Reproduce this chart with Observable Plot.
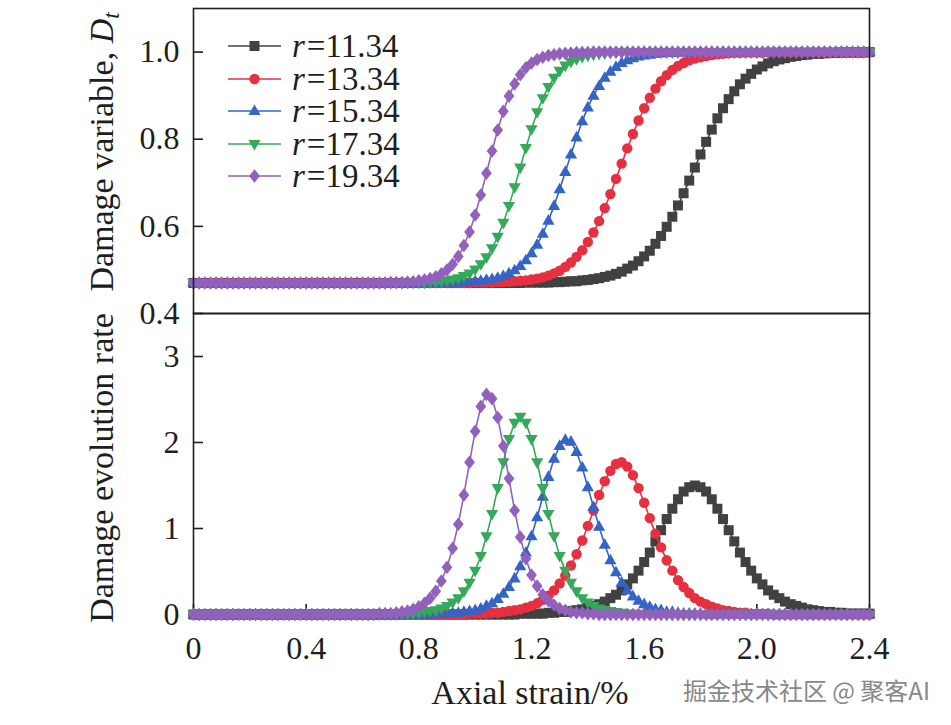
<!DOCTYPE html>
<html>
<head>
<meta charset="utf-8">
<script src="https://cdn.jsdelivr.net/npm/d3@7"></script>
<script src="https://cdn.jsdelivr.net/npm/@observablehq/plot@0.6"></script>
<style>
  body { margin: 0; background: #fff; }
  #chart { position: relative; width: 951px; height: 725px; overflow: hidden; }
  #chart svg { position: absolute; left: 0; }
  #chart svg text:not(.cjk) { font-family: "Liberation Serif", "Times New Roman", serif; }
</style>
</head>
<body>
<div id="chart"></div>
<script>
// Axial strain (%) sampled every 0.02
const strain = [
  0,0.02,0.04,0.06,0.08,0.1,0.12,0.14,0.16,0.18,
  0.2,0.22,0.24,0.26,0.28,0.3,0.32,0.34,0.36,0.38,
  0.4,0.42,0.44,0.46,0.48,0.5,0.52,0.54,0.56,0.58,
  0.6,0.62,0.64,0.66,0.68,0.7,0.72,0.74,0.76,0.78,
  0.8,0.82,0.84,0.86,0.88,0.9,0.92,0.94,0.96,0.98,
  1.0,1.02,1.04,1.06,1.08,1.1,1.12,1.14,1.16,1.18,
  1.2,1.22,1.24,1.26,1.28,1.3,1.32,1.34,1.36,1.38,
  1.4,1.42,1.44,1.46,1.48,1.5,1.52,1.54,1.56,1.58,
  1.6,1.62,1.64,1.66,1.68,1.7,1.72,1.74,1.76,1.78,
  1.8,1.82,1.84,1.86,1.88,1.9,1.92,1.94,1.96,1.98,
  2.0,2.02,2.04,2.06,2.08,2.1,2.12,2.14,2.16,2.18,
  2.2,2.22,2.24,2.26,2.28,2.3,2.32,2.34,2.36,2.38,
  2.4
];

// Damage variable D_t for each r
const damage1134 = [
  0.47,0.47,0.47,0.47,0.47,0.47,0.47,0.47,0.47,0.47,
  0.47,0.47,0.47,0.47,0.47,0.47,0.47,0.47,0.47,0.47,
  0.47,0.47,0.47,0.47,0.47,0.47,0.47,0.47,0.47,0.47,
  0.47,0.47,0.47,0.47,0.47,0.47,0.47,0.47,0.47,0.47,
  0.47,0.47,0.47,0.47,0.47,0.47,0.47,0.47,0.47,0.47,
  0.47,0.47,0.47,0.47,0.47,0.47,0.47,0.47,0.47,0.471,
  0.471,0.471,0.471,0.471,0.472,0.472,0.473,0.474,0.474,0.476,
  0.477,0.479,0.481,0.484,0.487,0.491,0.496,0.503,0.51,0.52,
  0.531,0.544,0.56,0.578,0.599,0.622,0.648,0.676,0.705,0.735,
  0.765,0.794,0.822,0.848,0.871,0.892,0.91,0.926,0.939,0.95,
  0.96,0.967,0.974,0.979,0.983,0.986,0.989,0.991,0.993,0.994,
  0.996,0.996,0.997,0.998,0.998,0.999,0.999,0.999,0.999,0.999,
  1
];
const damage1334 = [
  0.47,0.47,0.47,0.47,0.47,0.47,0.47,0.47,0.47,0.47,
  0.47,0.47,0.47,0.47,0.47,0.47,0.47,0.47,0.47,0.47,
  0.47,0.47,0.47,0.47,0.47,0.47,0.47,0.47,0.47,0.47,
  0.47,0.47,0.47,0.47,0.47,0.47,0.47,0.47,0.47,0.47,
  0.47,0.47,0.47,0.47,0.47,0.47,0.47,0.47,0.47,0.47,
  0.471,0.471,0.471,0.471,0.472,0.472,0.473,0.474,0.475,0.476,
  0.478,0.48,0.483,0.487,0.492,0.498,0.507,0.517,0.53,0.545,
  0.564,0.586,0.612,0.642,0.674,0.709,0.744,0.779,0.812,0.843,
  0.871,0.895,0.916,0.933,0.947,0.959,0.968,0.975,0.981,0.985,
  0.988,0.991,0.993,0.995,0.996,0.997,0.998,0.998,0.999,0.999,
  0.999,0.999,1,1,1,1,1,1,1,1,
  1,1,1,1,1,1,1,1,1,1,
  1
];
const damage1534 = [
  0.47,0.47,0.47,0.47,0.47,0.47,0.47,0.47,0.47,0.47,
  0.47,0.47,0.47,0.47,0.47,0.47,0.47,0.47,0.47,0.47,
  0.47,0.47,0.47,0.47,0.47,0.47,0.47,0.47,0.47,0.47,
  0.47,0.47,0.47,0.47,0.47,0.47,0.47,0.47,0.47,0.47,
  0.47,0.47,0.47,0.47,0.471,0.471,0.471,0.471,0.472,0.473,
  0.474,0.475,0.477,0.479,0.482,0.486,0.492,0.499,0.509,0.522,
  0.538,0.558,0.583,0.613,0.647,0.685,0.725,0.765,0.804,0.841,
  0.873,0.9,0.922,0.941,0.955,0.966,0.975,0.981,0.986,0.99,
  0.992,0.994,0.996,0.997,0.998,0.998,0.999,0.999,0.999,1,
  1,1,1,1,1,1,1,1,1,1,
  1,1,1,1,1,1,1,1,1,1,
  1,1,1,1,1,1,1,1,1,1,
  1
];
const damage1734 = [
  0.47,0.47,0.47,0.47,0.47,0.47,0.47,0.47,0.47,0.47,
  0.47,0.47,0.47,0.47,0.47,0.47,0.47,0.47,0.47,0.47,
  0.47,0.47,0.47,0.47,0.47,0.47,0.47,0.47,0.47,0.47,
  0.47,0.47,0.47,0.47,0.47,0.47,0.47,0.47,0.471,0.471,
  0.471,0.471,0.472,0.473,0.474,0.476,0.478,0.481,0.486,0.492,
  0.501,0.513,0.529,0.55,0.576,0.608,0.647,0.69,0.735,0.78,
  0.823,0.862,0.894,0.92,0.941,0.957,0.969,0.978,0.984,0.989,
  0.992,0.994,0.996,0.997,0.998,0.999,0.999,0.999,0.999,1,
  1,1,1,1,1,1,1,1,1,1,
  1,1,1,1,1,1,1,1,1,1,
  1,1,1,1,1,1,1,1,1,1,
  1,1,1,1,1,1,1,1,1,1,
  1
];
const damage1934 = [
  0.47,0.47,0.47,0.47,0.47,0.47,0.47,0.47,0.47,0.47,
  0.47,0.47,0.47,0.47,0.47,0.47,0.47,0.47,0.47,0.47,
  0.47,0.47,0.47,0.47,0.47,0.47,0.47,0.47,0.47,0.47,
  0.47,0.47,0.47,0.47,0.47,0.471,0.471,0.471,0.472,0.473,
  0.475,0.477,0.48,0.484,0.491,0.5,0.513,0.531,0.556,0.587,
  0.626,0.672,0.722,0.773,0.821,0.864,0.899,0.927,0.948,0.964,
  0.975,0.983,0.988,0.992,0.994,0.996,0.997,0.998,0.999,0.999,
  0.999,1,1,1,1,1,1,1,1,1,
  1,1,1,1,1,1,1,1,1,1,
  1,1,1,1,1,1,1,1,1,1,
  1,1,1,1,1,1,1,1,1,1,
  1,1,1,1,1,1,1,1,1,1,
  1
];

// Damage evolution rate for each r
const rate1134 = [
  0,0,0,0,0,0,0,0,0,0,
  0,0,0,0,0,0,0,0,0,0,
  0,0,0,0,0,0,0,0,0,0,
  0,0,0,0,0,0,0,0,0,0,
  0,0,0,0,0,0,0,0,0,0,
  0,0,0,0,0,0,0,0,0.01,0.01,
  0.01,0.01,0.01,0.02,0.02,0.03,0.03,0.04,0.05,0.06,
  0.08,0.1,0.12,0.15,0.19,0.23,0.28,0.35,0.42,0.51,
  0.61,0.72,0.85,0.98,1.11,1.23,1.34,1.43,1.48,1.5,
  1.48,1.43,1.34,1.23,1.11,0.98,0.85,0.72,0.61,0.51,
  0.42,0.35,0.28,0.23,0.19,0.15,0.12,0.1,0.08,0.06,
  0.05,0.04,0.03,0.03,0.02,0.02,0.01,0.01,0.01,0.01,
  0.01
];
const rate1334 = [
  0,0,0,0,0,0,0,0,0,0,
  0,0,0,0,0,0,0,0,0,0,
  0,0,0,0,0,0,0,0,0,0,
  0,0,0,0,0,0,0,0,0,0,
  0,0,0,0,0,0,0,0,0,0.01,
  0.01,0.01,0.01,0.02,0.02,0.03,0.04,0.05,0.06,0.08,
  0.1,0.13,0.17,0.22,0.28,0.36,0.45,0.57,0.7,0.86,
  1.03,1.21,1.39,1.55,1.67,1.75,1.77,1.72,1.62,1.47,
  1.3,1.12,0.94,0.78,0.63,0.51,0.4,0.32,0.25,0.19,
  0.15,0.12,0.09,0.07,0.05,0.04,0.03,0.02,0.02,0.01,
  0.01,0.01,0.01,0,0,0,0,0,0,0,
  0,0,0,0,0,0,0,0,0,0,
  0
];
const rate1534 = [
  0,0,0,0,0,0,0,0,0,0,
  0,0,0,0,0,0,0,0,0,0,
  0,0,0,0,0,0,0,0,0,0,
  0,0,0,0,0,0,0,0,0,0,
  0,0,0,0.01,0.01,0.01,0.02,0.02,0.03,0.04,
  0.05,0.07,0.1,0.13,0.18,0.24,0.32,0.42,0.56,0.72,
  0.91,1.13,1.37,1.6,1.81,1.96,2.03,2.01,1.89,1.71,
  1.48,1.25,1.02,0.81,0.63,0.49,0.37,0.28,0.21,0.16,
  0.12,0.09,0.06,0.05,0.03,0.03,0.02,0.01,0.01,0.01,
  0.01,0,0,0,0,0,0,0,0,0,
  0,0,0,0,0,0,0,0,0,0,
  0,0,0,0,0,0,0,0,0,0,
  0
];
const rate1734 = [
  0,0,0,0,0,0,0,0,0,0,
  0,0,0,0,0,0,0,0,0,0,
  0,0,0,0,0,0,0,0,0,0,
  0,0,0,0,0,0,0,0.01,0.01,0.01,
  0.02,0.03,0.04,0.05,0.07,0.1,0.14,0.19,0.27,0.37,
  0.51,0.68,0.91,1.17,1.47,1.77,2.04,2.23,2.3,2.23,
  2.04,1.77,1.47,1.17,0.91,0.68,0.51,0.37,0.27,0.19,
  0.14,0.1,0.07,0.05,0.04,0.03,0.02,0.01,0.01,0.01,
  0,0,0,0,0,0,0,0,0,0,
  0,0,0,0,0,0,0,0,0,0,
  0,0,0,0,0,0,0,0,0,0,
  0,0,0,0,0,0,0,0,0,0,
  0
];
const rate1934 = [
  0,0,0,0,0,0,0,0,0,0,
  0,0,0,0,0,0,0,0,0,0,
  0,0,0,0,0,0,0,0,0,0,
  0,0,0,0.01,0.01,0.01,0.02,0.03,0.04,0.06,
  0.09,0.13,0.19,0.27,0.39,0.55,0.77,1.05,1.39,1.77,
  2.13,2.42,2.56,2.51,2.29,1.96,1.58,1.21,0.9,0.65,
  0.46,0.33,0.23,0.16,0.11,0.07,0.05,0.03,0.02,0.02,
  0.01,0.01,0,0,0,0,0,0,0,0,
  0,0,0,0,0,0,0,0,0,0,
  0,0,0,0,0,0,0,0,0,0,
  0,0,0,0,0,0,0,0,0,0,
  0,0,0,0,0,0,0,0,0,0,
  0
];

const rValues = ["11.34", "13.34", "15.34", "17.34", "19.34"];
const strainTicks = [0, 0.4, 0.8, 1.2, 1.6, 2.0, 2.4];
const damageTicks = [0.4, 0.6, 0.8, 1.0];
const rateTicks = [0, 1, 2, 3];

// Marker shapes
const squareSym = {draw(c) { c.moveTo(-5, -5); c.lineTo(5, -5); c.lineTo(5, 5); c.lineTo(-5, 5); c.closePath(); }};
const circleSym = {draw(c) { c.moveTo(5.2, 0); c.arc(0, 0, 5.2, 0, 2 * Math.PI); c.closePath(); }};
const triUpSym = {draw(c) { c.moveTo(0, -6.6); c.lineTo(6.1, 4); c.lineTo(-6.1, 4); c.closePath(); }};
const triDownSym = {draw(c) { c.moveTo(0, 6.6); c.lineTo(6.1, -4); c.lineTo(-6.1, -4); c.closePath(); }};
const diamondSym = {draw(c) { c.moveTo(0, -6.8); c.lineTo(5.4, 0); c.lineTo(0, 6.8); c.lineTo(-5.4, 0); c.closePath(); }};

const series = [
  {r: rValues[0], color: "#414141", symbol: squareSym, D: damage1134, rate: rate1134},
  {r: rValues[1], color: "#e62f3f", symbol: circleSym, D: damage1334, rate: rate1334},
  {r: rValues[2], color: "#3464c4", symbol: triUpSym, D: damage1534, rate: rate1534},
  {r: rValues[3], color: "#35a85a", symbol: triDownSym, D: damage1734, rate: rate1734},
  {r: rValues[4], color: "#9161bd", symbol: diamondSym, D: damage1934, rate: rate1934}
];

const FONT = "'Liberation Serif', 'Times New Roman', serif";
const INK = "#1e1e1e";
const W = 951, ML = 193, MR = 82;
const fmt1 = d => d === 0 ? "0" : d.toFixed(1);

function seriesMarks(key) {
  return series.flatMap(s => {
    const rows = strain.map((x, i) => ({strain: x, D: s.D[i], rate: s.rate[i]}));
    return [
      Plot.line(rows, {x: "strain", y: key, stroke: s.color, strokeWidth: 1.6}),
      Plot.dot(rows, {x: "strain", y: key, fill: s.color, symbol: s.symbol, r: 5})
    ];
  });
}

const plotStyle = {background: "transparent", overflow: "visible", fontFamily: FONT, color: INK};
const frameW = W - ML - MR;

// Upper panel: damage variable
const upper = Plot.plot({
  width: W, height: 320,
  marginLeft: ML, marginRight: MR, marginTop: 8, marginBottom: 7,
  style: plotStyle,
  x: {domain: [0, 2.4], axis: null},
  y: {domain: [0.4, 1.1]},
  marks: [
    Plot.tickY(damageTicks, {y: d => d, insetRight: frameW - 10, stroke: INK, strokeWidth: 1.6}),
    Plot.axisY({ticks: damageTicks, tickSize: 0, tickPadding: 14, tickFormat: fmt1, fontSize: 32, label: null}),
    ...seriesMarks("D"),
    Plot.frame({stroke: INK, strokeWidth: 1.6})
  ]
});
upper.style.top = "0px";

// Lower panel: damage evolution rate
const lower = Plot.plot({
  width: W, height: 425,
  marginLeft: ML, marginRight: MR, marginTop: 13, marginBottom: 111,
  style: plotStyle,
  x: {domain: [0, 2.4]},
  y: {domain: [0, 3.5]},
  marks: [
    Plot.tickY(rateTicks, {y: d => d, insetRight: frameW - 10, stroke: INK, strokeWidth: 1.6}),
    Plot.tickX(strainTicks, {x: d => d, insetTop: 301 - 10, stroke: INK, strokeWidth: 1.6}),
    Plot.frame({stroke: INK, strokeWidth: 1.6}),
    Plot.axisY({ticks: rateTicks, tickSize: 0, tickPadding: 14, tickFormat: d => String(d), fontSize: 32, label: null}),
    Plot.axisX({ticks: strainTicks, tickSize: 0, tickPadding: 22, tickFormat: fmt1, fontSize: 32, label: null}),
    ...seriesMarks("rate")
  ]
});
lower.style.top = "300px";

const chart = document.getElementById("chart");
chart.append(lower, upper);

// Titles, legend and credit line
const over = d3.create("svg")
  .attr("width", W).attr("height", 725)
  .style("top", "0px")
  .attr("font-family", FONT)
  .attr("fill", INK);

const t1 = over.append("text")
  .attr("transform", "translate(113,152) rotate(-90)")
  .attr("text-anchor", "middle").attr("font-size", 34);
t1.append("tspan").text("Damage variable, ");
t1.append("tspan").attr("font-style", "italic").text("D");
t1.append("tspan").attr("font-style", "italic").attr("font-size", 23).attr("dy", 6).text("t");

over.append("text")
  .attr("transform", "translate(113,468) rotate(-90)")
  .attr("text-anchor", "middle").attr("font-size", 34)
  .text("Damage evolution rate");

over.append("text")
  .attr("x", 530).attr("y", 704)
  .attr("text-anchor", "middle").attr("font-size", 34)
  .text("Axial strain/%");

const legendY = [46, 79, 111, 144, 176];
series.forEach((s, i) => {
  const g = over.append("g").attr("transform", `translate(0,${legendY[i]})`);
  g.append("line").attr("x1", 228).attr("x2", 281).attr("y1", 0).attr("y2", 0)
    .attr("stroke", s.color).attr("stroke-width", 1.6);
  const p = d3.path();
  s.symbol.draw(p, 0);
  g.append("path").attr("transform", "translate(254.5,0)").attr("d", p.toString()).attr("fill", s.color);
  const t = g.append("text").attr("x", 292).attr("y", 11).attr("font-size", 33);
  t.append("tspan").attr("font-style", "italic").text("r");
  t.append("tspan").attr("dx", 2).text("=" + s.r);
});

over.append("text")
  .attr("class", "cjk")
  .attr("x", 930).attr("y", 700)
  .attr("text-anchor", "end")
  .attr("font-family", "'Noto Sans CJK SC', sans-serif")
  .attr("font-size", 24)
  .attr("fill", "#888888")
  .attr("stroke", "#ffffff").attr("stroke-width", 2).attr("paint-order", "stroke")
  .text("掘金技术社区 @ 聚客AI");

chart.append(over.node());
</script>
</body>
</html>
